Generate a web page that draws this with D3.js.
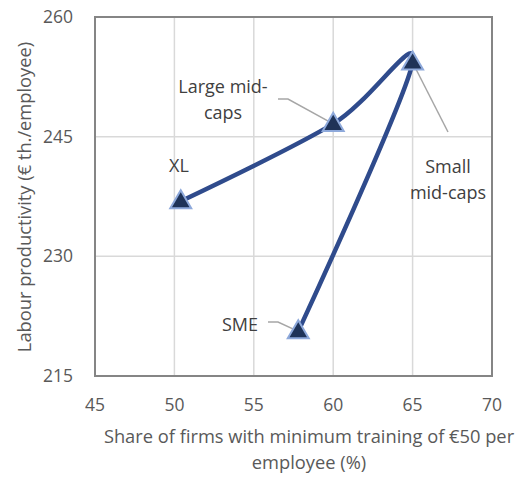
<!DOCTYPE html>
<html>
<head>
<meta charset="utf-8">
<script src="https://cdn.jsdelivr.net/npm/d3@7"></script>
<style>
  body { margin: 0; background: #fff; }
  text { font-family: "Open Sans", sans-serif; fill: #595959; }
</style>
</head>
<body>
<div id="vis"></div>
<script>
// Data
var groups = ["XL", "Large mid-caps", "Small mid-caps", "SME"];
var trainingShare = [50.4, 60.0, 65.0, 57.8];
var productivity = [236.9, 246.6, 254.3, 220.6];
var xTicks = [45, 50, 55, 60, 65, 70];
var yTicks = [215, 230, 245, 260];

var width = 527, height = 478;
var margin = {top: 17, right: 35, bottom: 102, left: 95};

var svg = d3.select("#vis").append("svg")
    .attr("width", width)
    .attr("height", height);

var x = d3.scaleLinear().domain([45, 70]).range([margin.left, width - margin.right]);
var y = d3.scaleLinear().domain([215, 260]).range([height - margin.bottom, margin.top]);

var points = groups.map(function(g, i) {
    return {name: g, x: trainingShare[i], y: productivity[i]};
});

// Gridlines
svg.append("g")
    .selectAll("line")
    .data(xTicks)
    .enter().append("line")
    .attr("x1", d => x(d)).attr("x2", d => x(d))
    .attr("y1", y(215)).attr("y2", y(260))
    .attr("stroke", "#d9d9d9").attr("stroke-width", 1.5);

svg.append("g")
    .selectAll("line")
    .data(yTicks)
    .enter().append("line")
    .attr("x1", x(45)).attr("x2", x(70))
    .attr("y1", d => y(d)).attr("y2", d => y(d))
    .attr("stroke", "#d9d9d9").attr("stroke-width", 1.5);

// Plot frame
svg.append("rect")
    .attr("x", x(45)).attr("y", y(260))
    .attr("width", x(70) - x(45)).attr("height", y(215) - y(260))
    .attr("fill", "none").attr("stroke", "#858585").attr("stroke-width", 2);

// Tick labels
svg.append("g")
    .selectAll("text")
    .data(xTicks)
    .enter().append("text")
    .attr("x", d => x(d)).attr("y", y(215) + 35)
    .attr("text-anchor", "middle")
    .style("font-size", "17.5px")
    .text(d => d);

svg.append("g")
    .selectAll("text")
    .data(yTicks)
    .enter().append("text")
    .attr("x", x(45) - 22).attr("y", d => y(d) + 6)
    .attr("text-anchor", "end")
    .style("font-size", "17.5px")
    .text(d => d);

// Axis titles
svg.append("text")
    .attr("text-anchor", "middle")
    .attr("x", 309).attr("y", 443)
    .style("font-size", "18.3px")
    .text("Share of firms with minimum training of €50 per");
svg.append("text")
    .attr("text-anchor", "middle")
    .attr("x", 309).attr("y", 469)
    .style("font-size", "18.3px")
    .text("employee (%)");

svg.append("text")
    .attr("text-anchor", "middle")
    .attr("transform", "translate(31," + 197 + ") rotate(-90)")
    .style("font-size", "18.3px")
    .text("Labour productivity (€ th./employee)");

// Leader lines for labels
var leaders = [
    [[278, 99], [288, 99], [x(60.0), y(246.6)]],
    [[x(65.0), y(254.3)], [448, 132]],
    [[268, 322], [278, 322], [x(57.8), y(220.6)]]
];
svg.append("g")
    .selectAll("path")
    .data(leaders)
    .enter().append("path")
    .attr("d", d3.line())
    .attr("fill", "none")
    .attr("stroke", "#a6a6a6")
    .attr("stroke-width", 1.5);

// Smoothed line
var line = d3.line()
    .x(d => x(d.x))
    .y(d => y(d.y))
    .curve(d3.curveCardinal.tension(0));

svg.append("path")
    .datum(points)
    .attr("d", line)
    .attr("fill", "none")
    .attr("stroke", "#2f4b8c")
    .attr("stroke-width", 4.5);

// Triangle markers
var tri = d3.symbol().type(d3.symbolTriangle).size(190);
svg.append("g")
    .selectAll("path")
    .data(points)
    .enter().append("path")
    .attr("d", tri)
    .attr("transform", d => "translate(" + x(d.x) + "," + (y(d.y) + 1) + ")")
    .attr("fill", "#1f3358")
    .attr("stroke", "#8ea9db")
    .attr("stroke-width", 2);

// Point labels
var labels = [
    {lines: ["XL"], cx: 179, cy: 172},
    {lines: ["Large mid-", "caps"], cx: 223, cy: 93},
    {lines: ["Small", "mid-caps"], cx: 448, cy: 173},
    {lines: ["SME"], cx: 240, cy: 331}
];
labels.forEach(function(l) {
    l.lines.forEach(function(t, i) {
        svg.append("text")
            .attr("x", l.cx).attr("y", l.cy + i * 26)
            .attr("text-anchor", "middle")
            .style("font-size", "18px")
            .style("fill", "#404040")
            .text(t);
    });
});
</script>
</body>
</html>
